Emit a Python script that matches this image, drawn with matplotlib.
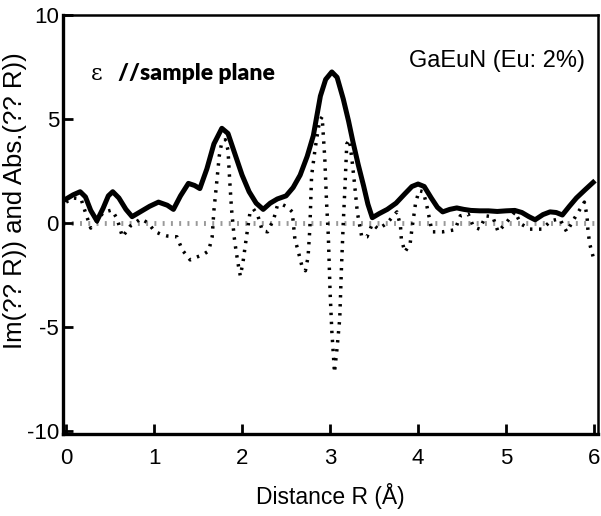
import matplotlib
matplotlib.use("Agg")
import matplotlib.pyplot as plt

# |FT| (Abs)
abs_r = [0.00, 0.08, 0.16, 0.22, 0.28, 0.35, 0.42, 0.48, 0.53, 0.60, 0.68, 0.75,
         0.85, 0.95, 1.05, 1.15, 1.22, 1.30, 1.39, 1.46, 1.52, 1.60, 1.68, 1.77,
         1.84, 1.92, 2.00, 2.08, 2.16, 2.24, 2.32, 2.40, 2.50, 2.58, 2.66, 2.74,
         2.81, 2.89, 2.95, 3.02, 3.08, 3.15, 3.21, 3.26, 3.32, 3.38, 3.43, 3.48,
         3.56, 3.65, 3.75, 3.85, 3.93, 4.00, 4.07, 4.15, 4.22, 4.28, 4.36, 4.44,
         4.52, 4.60, 4.70, 4.80, 4.90, 5.00, 5.10, 5.18, 5.26, 5.33, 5.42, 5.50,
         5.57, 5.64, 5.72, 5.80, 5.90, 5.99]
abs_v = [1.15, 1.35, 1.50, 1.25, 0.60, 0.10, 0.70, 1.30, 1.50, 1.20, 0.65, 0.30,
         0.55, 0.80, 1.00, 0.85, 0.65, 1.30, 1.90, 1.80, 1.65, 2.60, 3.80, 4.55,
         4.30, 3.30, 2.30, 1.50, 0.95, 0.65, 0.95, 1.15, 1.30, 1.70, 2.30, 3.20,
         4.20, 6.10, 6.90, 7.26, 7.00, 5.96, 4.90, 3.90, 2.80, 1.80, 0.90, 0.25,
         0.45, 0.65, 0.95, 1.40, 1.75, 1.87, 1.75, 1.20, 0.75, 0.53, 0.65, 0.72,
         0.65, 0.60, 0.58, 0.58, 0.55, 0.58, 0.60, 0.50, 0.30, 0.15, 0.40, 0.53,
         0.50, 0.38, 0.80, 1.20, 1.60, 1.95]

# Im part
im_r = [0.00, 0.08, 0.17, 0.22, 0.28, 0.35, 0.42, 0.52, 0.58, 0.64, 0.73, 0.85,
        0.93, 1.01, 1.08, 1.15, 1.26, 1.32, 1.41, 1.48, 1.55, 1.62, 1.66, 1.68,
        1.71, 1.74, 1.77, 1.81, 1.84, 1.86, 1.88, 1.91, 1.93, 1.96, 1.98, 2.01,
        2.05, 2.09, 2.13, 2.18, 2.23, 2.29, 2.36, 2.40, 2.45, 2.52, 2.57, 2.60,
        2.64, 2.68, 2.72, 2.75, 2.77, 2.79, 2.83, 2.88, 2.91, 2.94, 2.96, 2.98,
        3.00, 3.02, 3.04, 3.05, 3.08, 3.11, 3.13, 3.15, 3.17, 3.19, 3.22, 3.25,
        3.28, 3.31, 3.36, 3.42, 3.48, 3.55, 3.65, 3.76, 3.80, 3.81, 3.85, 3.91,
        3.93, 3.95, 3.97, 4.01, 4.06, 4.10, 4.13, 4.16, 4.28, 4.42, 4.48, 4.57,
        4.63, 4.70, 4.77, 4.85, 4.91, 5.01, 5.10, 5.17, 5.27, 5.41, 5.51, 5.61,
        5.69, 5.76, 5.89, 5.92, 5.93, 5.95, 5.99]
im_v = [1.00, 1.20, 1.15, 0.50, -0.25, 0.05, 0.50, 0.62, 0.20, -0.67, -0.15, 0.20,
        0.00, -0.42, -0.55, -0.63, -0.67, -1.30, -1.78, -1.65, -1.54, -1.35, -0.67, 0.60,
        1.87, 3.20, 3.90, 4.00, 3.50, 2.00, 0.67, -0.67, -1.30, -2.10, -2.55, -1.90,
        -0.67, 0.50, 0.67, 0.34, -0.38, -0.43, 0.19, 0.82, 0.90, 0.75, 0.53, -0.77,
        -1.40, -2.07, -2.30, -1.63, -0.29, 2.26, 3.56, 4.90, 5.10, 3.10, 1.00, -0.60,
        -3.30, -5.20, -6.50, -7.20, -6.00, -4.60, -2.10, 0.00, 1.80, 3.80, 4.00, 3.00,
        1.80, 0.50, -0.67, -0.67, -0.05, -0.30, 0.00, 0.53, -0.14, -0.77, -1.40, -1.00,
        -0.30, 0.29, 0.90, 1.55, 1.50, 0.82, 0.19, -0.43, -0.43, -0.33, 0.34, 0.43,
        -0.19, -0.30, 0.34, 0.29, -0.43, 0.05, 0.53, -0.05, -0.30, -0.30, 0.10, 0.20,
        -0.43, 0.10, 1.00, 0.34, -0.30, -1.00, -1.63]

x_ticks = [0, 1, 2, 3, 4, 5, 6]
y_ticks = [-10, -5, 0, 5, 10]

plt.rcParams["font.family"] = ["Liberation Sans", "DejaVu Sans"]
plt.rcParams["axes.unicode_minus"] = False

fig = plt.figure(figsize=(6.01, 5.16), dpi=100)
ax = fig.add_axes([0.105, 0.159, 0.89, 0.812])

ax.axhline(0, color="0.6", lw=3.5, dashes=(0.4, 1.3), zorder=1)
ax.plot(im_r, im_v, color="black", lw=2.5, linestyle=(0, (0.7, 1.9)), zorder=2)
ax.plot(abs_r, abs_v, color="black", lw=3.6, solid_joinstyle="round", zorder=3)

ax.set_xlim(-0.034, 6.045)
ax.set_ylim(-10.15, 10.0)
ax.set_xticks(x_ticks)
ax.set_yticks(y_ticks)
ax.tick_params(direction="in", length=7, width=2, labelsize=16)
ax.tick_params(axis="x", pad=10)
ax.tick_params(axis="y", pad=3)

for side in ["left", "bottom"]:
    ax.spines[side].set_linewidth(2.4)
for side in ["top", "right"]:
    ax.spines[side].set_linewidth(1.8)

ax.set_xlabel("Distance R (\u00c5)", fontsize=16.5, labelpad=10)
ax.set_ylabel("Im(?? R)) and Abs.(?? R))", fontsize=18.5)
ax.yaxis.set_label_coords(-0.067, 0.558)

ax.text(0.35, 7.14, "\u03b5", fontsize=16, family="DejaVu Serif",
        ha="center", va="center")
ax.text(0.59, 7.2, "//sample plane", fontsize=16.5, family="Lato",
        weight="heavy", ha="left", va="center")
ax.text(5.9, 7.77, "GaEuN (Eu: 2%)", fontsize=17, ha="right", va="center")

fig.savefig("out.png", dpi=100)
